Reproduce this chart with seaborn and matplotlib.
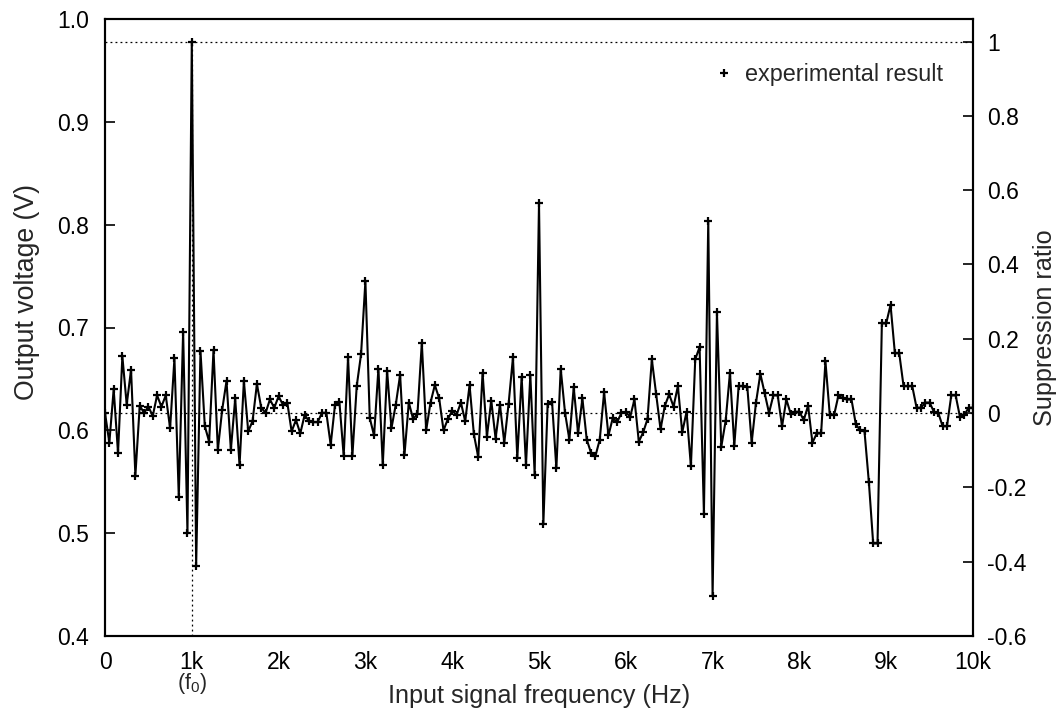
import matplotlib
matplotlib.use("Agg")
import matplotlib.pyplot as plt
from matplotlib.lines import Line2D
import numpy as np
import pandas as pd
import seaborn as sns

# ---------------- data ----------------
freq_step_hz = 50
voltage = [
    0.617, 0.588, 0.640, 0.578, 0.672, 0.625, 0.659, 0.556, 0.624, 0.617,
    0.623, 0.614, 0.634, 0.623, 0.634, 0.602, 0.670, 0.535, 0.696, 0.500,
    0.978, 0.468, 0.677, 0.604, 0.589, 0.678, 0.581, 0.620, 0.648, 0.581,
    0.631, 0.566, 0.648, 0.599, 0.609, 0.645, 0.622, 0.617, 0.630, 0.622,
    0.633, 0.625, 0.627, 0.599, 0.610, 0.597, 0.615, 0.609, 0.608, 0.608,
    0.617, 0.617, 0.586, 0.625, 0.628, 0.575, 0.671, 0.575, 0.643, 0.674,
    0.745, 0.612, 0.595, 0.660, 0.566, 0.658, 0.602, 0.625, 0.654, 0.576,
    0.627, 0.611, 0.616, 0.685, 0.600, 0.627, 0.644, 0.631, 0.600, 0.611,
    0.619, 0.615, 0.627, 0.609, 0.644, 0.596, 0.574, 0.656, 0.594, 0.629,
    0.592, 0.625, 0.588, 0.626, 0.671, 0.573, 0.652, 0.566, 0.654, 0.557,
    0.821, 0.509, 0.626, 0.628, 0.563, 0.660, 0.617, 0.591, 0.642, 0.597,
    0.631, 0.591, 0.578, 0.575, 0.591, 0.637, 0.595, 0.612, 0.608, 0.617,
    0.618, 0.613, 0.630, 0.589, 0.598, 0.611, 0.669, 0.635, 0.601, 0.624,
    0.635, 0.623, 0.643, 0.598, 0.618, 0.565, 0.669, 0.681, 0.519, 0.804,
    0.439, 0.715, 0.584, 0.609, 0.656, 0.585, 0.643, 0.643, 0.642, 0.588,
    0.627, 0.655, 0.636, 0.617, 0.634, 0.634, 0.604, 0.630, 0.616, 0.618,
    0.618, 0.610, 0.624, 0.588, 0.597, 0.597, 0.667, 0.615, 0.615, 0.634,
    0.631, 0.630, 0.630, 0.606, 0.600, 0.599, 0.550, 0.490, 0.490, 0.704,
    0.704, 0.722, 0.675, 0.675, 0.643, 0.643, 0.643, 0.622, 0.622, 0.627,
    0.627, 0.618, 0.617, 0.604, 0.604, 0.634, 0.634, 0.613, 0.615, 0.622,
    0.622,
]
frequency = [i * freq_step_hz for i in range(len(voltage))]

v_baseline = 0.6168   # suppression ratio 0
v_peak = 0.978        # suppression ratio 1 (at f0)
f0 = 1000

xtick_values = [0, 1000, 2000, 3000, 4000, 5000, 6000, 7000, 8000, 9000, 10000]
xtick_labels = ["0", "1k", "2k", "3k", "4k", "5k", "6k", "7k", "8k", "9k", "10k"]
ytick_values = [0.4, 0.5, 0.6, 0.7, 0.8, 0.9, 1.0]
ytick_labels = ["0.4", "0.5", "0.6", "0.7", "0.8", "0.9", "1.0"]
y2tick_values = [1.0, 0.8, 0.6, 0.4, 0.2, 0.0, -0.2, -0.4, -0.6]
y2tick_labels = ["1", "0.8", "0.6", "0.4", "0.2", "0", "-0.2", "-0.4", "-0.6"]

# ---------------- style ----------------
sns.set_theme(style="white")
plt.rcParams['font.family'] = ['Liberation Sans', 'DejaVu Sans']
plt.rcParams['mathtext.fontset'] = 'custom'
plt.rcParams['mathtext.rm'] = 'Liberation Sans'
FS = 16.5
LFS = 18.2

W, H = 1064, 720
fig = plt.figure(figsize=(W / 100, H / 100), dpi=100)
fig.patch.set_facecolor("white")
ax = fig.add_axes([105 / W, 1 - 636 / H, (973 - 105) / W, (636 - 19) / H])
AXH = 636 - 19
AXW = 973 - 105

df = pd.DataFrame({"frequency": frequency, "voltage": voltage})
sns.lineplot(data=df, x="frequency", y="voltage", ax=ax, color="black",
             linewidth=1.5, marker="+", markersize=6, markeredgewidth=1.6,
             markeredgecolor="black", legend=False)

# reference dotted lines
dot = dict(color="black", linewidth=0.9, linestyle=(0, (1.5, 2.5)), zorder=1)
ax.axhline(v_baseline, **dot)
ax.axhline(v_peak, **dot)
ax.vlines(f0, 0.4, v_peak, **dot)

ax.set_xlim(0, 10000)
ax.set_ylim(0.4, 1.0)
ax.set_xticks(xtick_values)
ax.set_xticklabels(xtick_labels, fontsize=FS)
ax.set_yticks(ytick_values)
ax.set_yticklabels(ytick_labels, fontsize=FS)
ax.set_xlabel("Input signal frequency (Hz)", fontsize=LFS)
ax.set_ylabel("Output voltage (V)", fontsize=19.2)
ax.xaxis.set_label_coords(0.5, (636 - 684) / AXH)
ax.yaxis.set_label_coords((40 - 105) / AXW, (636 - 292) / AXH)
ax.text(f0, (636 - 684) / AXH, "(f$_{0}$)", transform=ax.get_xaxis_transform(),
        ha="center", va="center", fontsize=FS - 1)

ax.tick_params(axis="x", direction="in", length=7, width=1.2,
               colors="black", pad=10.5)
ax.tick_params(axis="y", direction="in", length=7, width=1.2,
               colors="black", pad=11.5)
ax.tick_params(axis="y", right=False)
for sp in ax.spines.values():
    sp.set_color("black")
    sp.set_linewidth(1.5)

ax2 = ax.twinx()
ax2.set_ylim((0.4 - v_baseline) / (v_peak - v_baseline),
             (1.0 - v_baseline) / (v_peak - v_baseline))
ax2.set_yticks(y2tick_values)
ax2.set_yticklabels(y2tick_labels, fontsize=FS)
ax2.set_ylabel("Suppression ratio", fontsize=LFS)
ax2.yaxis.set_label_coords((1033 - 105) / AXW, 0.5)
ax2.tick_params(axis="y", direction="in", length=7, width=1.2,
                colors="black", pad=10)
for sp in ax2.spines.values():
    sp.set_color("black")
    sp.set_linewidth(1.5)
ax.grid(False)
ax2.grid(False)

handle = Line2D([], [], color="black", marker="+", linestyle="none",
                markersize=6, markeredgewidth=1.6)
ax.legend([handle], ["experimental result"], loc="center right",
          bbox_to_anchor=((943 - 105) / AXW, (636 - 75) / AXH), frameon=False,
          fontsize=16.8, handlelength=0.6, handletextpad=0.6,
          borderpad=0, borderaxespad=0)

fig.savefig("out.png", dpi=100, facecolor="white")
